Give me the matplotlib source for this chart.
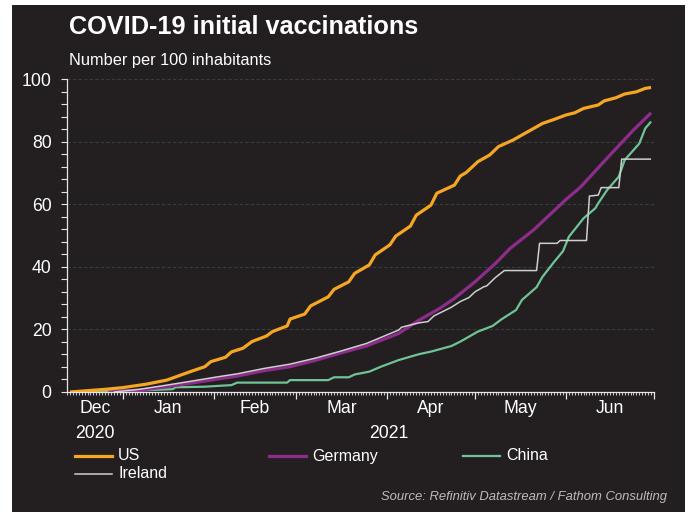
"""COVID-19 initial vaccinations, number per 100 inhabitants."""
import pandas as pd
import matplotlib
matplotlib.use("Agg")
import matplotlib.pyplot as plt
import matplotlib.dates as mdates
from matplotlib.lines import Line2D
from matplotlib.patches import Rectangle
from matplotlib.ticker import MultipleLocator

# Data
us_dates = ["2020-12-14", "2020-12-26", "2021-01-01", "2021-01-09", "2021-01-16",
            "2021-01-24", "2021-01-29", "2021-01-31", "2021-02-05", "2021-02-07",
            "2021-02-11", "2021-02-14", "2021-02-19", "2021-02-21", "2021-02-26",
            "2021-02-27", "2021-03-04", "2021-03-06", "2021-03-12", "2021-03-14",
            "2021-03-19", "2021-03-21", "2021-03-26", "2021-03-28", "2021-04-02",
            "2021-04-04", "2021-04-09", "2021-04-11", "2021-04-16", "2021-04-18",
            "2021-04-24", "2021-04-26", "2021-04-28", "2021-05-02", "2021-05-06",
            "2021-05-09", "2021-05-14", "2021-05-17", "2021-05-21", "2021-05-24",
            "2021-05-28", "2021-06-01", "2021-06-04", "2021-06-07", "2021-06-12",
            "2021-06-14", "2021-06-18", "2021-06-21", "2021-06-25", "2021-06-28",
            "2021-06-30"]
us_values = [0.0, 0.85, 1.4, 2.5, 3.8, 6.5, 8.1, 9.7, 11.1, 12.8,
             14.0, 16.1, 17.9, 19.3, 21.1, 23.3, 24.9, 27.5, 30.4, 32.8,
             35.2, 37.9, 40.6, 43.8, 47.0, 49.8, 53.0, 56.5, 59.7, 63.5,
             66.1, 69.0, 70.1, 73.6, 75.7, 78.4, 80.5, 82.1, 84.2, 85.8,
             87.1, 88.5, 89.2, 90.6, 91.7, 93.0, 94.0, 95.2, 95.9, 97.0,
             97.3]

germany_dates = ["2020-12-27", "2021-01-07", "2021-01-16", "2021-01-24", "2021-02-02",
                 "2021-02-09", "2021-02-18", "2021-02-27", "2021-03-08", "2021-03-16",
                 "2021-03-25", "2021-04-05", "2021-04-12", "2021-04-19", "2021-04-24",
                 "2021-05-01", "2021-05-08", "2021-05-13", "2021-05-21", "2021-05-27",
                 "2021-06-01", "2021-06-06", "2021-06-16", "2021-06-24", "2021-06-30"]
germany_values = [0.0, 0.6, 1.7, 2.8, 4.1, 5.1, 6.8, 8.1, 10.2, 12.4,
                  14.7, 18.7, 23.0, 26.7, 29.9, 35.2, 41.1, 45.9, 51.8, 57.1,
                  61.5, 65.5, 75.7, 83.7, 89.2]

china_dates = ["2020-12-15", "2021-01-09", "2021-01-18", "2021-01-19", "2021-01-29",
               "2021-02-07", "2021-02-09", "2021-02-26", "2021-02-27", "2021-03-12",
               "2021-03-14", "2021-03-19", "2021-03-21", "2021-03-26", "2021-03-30",
               "2021-04-05", "2021-04-12", "2021-04-16", "2021-04-23", "2021-04-26",
               "2021-05-02", "2021-05-07", "2021-05-10", "2021-05-15", "2021-05-17",
               "2021-05-22", "2021-05-24", "2021-05-28", "2021-05-31", "2021-06-02",
               "2021-06-07", "2021-06-11", "2021-06-12", "2021-06-15", "2021-06-19",
               "2021-06-21", "2021-06-26", "2021-06-28", "2021-06-30"]
china_values = [0.0, 0.6, 0.9, 1.5, 1.7, 2.2, 3.0, 3.0, 3.8, 3.8,
                4.7, 4.7, 5.6, 6.5, 8.1, 10.2, 12.1, 12.9, 14.7, 16.1,
                19.3, 21.1, 23.2, 26.2, 29.4, 33.5, 36.8, 41.6, 45.0, 49.6,
                55.5, 58.7, 60.3, 64.5, 68.8, 74.1, 79.4, 84.2, 86.4]

ireland_dates = ["2020-12-29", "2021-01-07", "2021-01-16", "2021-01-24", "2021-02-02",
                 "2021-02-09", "2021-02-18", "2021-02-27", "2021-03-08", "2021-03-16",
                 "2021-03-25", "2021-04-05", "2021-04-06", "2021-04-12", "2021-04-15",
                 "2021-04-17", "2021-04-23", "2021-04-26", "2021-04-29", "2021-05-01",
                 "2021-05-04", "2021-05-05", "2021-05-08", "2021-05-11", "2021-05-22",
                 "2021-05-23", "2021-05-29", "2021-05-30", "2021-06-08", "2021-06-09",
                 "2021-06-12", "2021-06-13", "2021-06-19", "2021-06-20", "2021-06-30"]
ireland_values = [0.0, 0.9, 2.2, 3.4, 4.8, 5.8, 7.5, 8.9, 10.9, 13.0,
                  15.5, 19.8, 20.7, 22.1, 22.5, 24.3, 27.1, 28.9, 30.2, 32.0,
                  33.6, 33.9, 36.6, 38.8, 38.8, 47.5, 47.5, 48.4, 48.4, 62.6,
                  62.9, 65.3, 65.3, 74.4, 74.4]

series_names = ["US", "Germany", "China", "Ireland"]
month_names = ["Dec", "Jan", "Feb", "Mar", "Apr", "May", "Jun"]
year_labels = ["2020", "2021"]

BG = "#231f20"
colors = {"US": "#f5a623", "Germany": "#8e2c8c", "China": "#6fc495", "Ireland": "#cfcfcf"}
widths = {"US": 2.3, "Germany": 2.3, "China": 1.6, "Ireland": 1.1}

series = {
    "US": (us_dates, us_values),
    "Germany": (germany_dates, germany_values),
    "China": (china_dates, china_values),
    "Ireland": (ireland_dates, ireland_values),
}

plt.rcParams["font.family"] = ["Liberation Sans", "DejaVu Sans"]

fig = plt.figure(figsize=(6.92, 5.12), dpi=100)
fig.patch.set_facecolor("white")
# dark panel that leaves a thin white border
fig.add_artist(Rectangle((12 / 692, 0), 673 / 692, 507 / 512,
                         transform=fig.transFigure, facecolor=BG,
                         edgecolor="none", zorder=-10))

ax = fig.add_axes([67 / 692, 1 - 392 / 512, 587 / 692, 313 / 512])
ax.set_facecolor(BG)

for name in ["China", "Germany", "Ireland", "US"]:
    d, v = series[name]
    ax.plot(pd.to_datetime(d), v, color=colors[name], lw=widths[name],
            solid_joinstyle="round", solid_capstyle="butt")

x0, x1 = pd.Timestamp("2020-12-13"), pd.Timestamp("2021-07-01")
ax.set_xlim(x0, x1)
ax.set_ylim(0, 100)

# axes styling
for s in ["top", "right"]:
    ax.spines[s].set_visible(False)
for s in ["left", "bottom"]:
    ax.spines[s].set_color("#e6e6e6")
    ax.spines[s].set_linewidth(0.9)

ax.yaxis.set_major_locator(MultipleLocator(20))
ax.yaxis.set_minor_locator(MultipleLocator(4))
ax.grid(axis="y", which="major", color="#34403e", lw=0.8, ls=(0, (3, 2)))
ax.set_axisbelow(True)
ax.tick_params(axis="y", which="both", colors="#e6e6e6", labelcolor="white",
               labelsize=12.7, length=4, width=0.8, pad=7)

ax.xaxis.set_major_locator(mdates.MonthLocator())
ax.xaxis.set_minor_locator(mdates.DayLocator())
ax.xaxis.set_major_formatter(plt.NullFormatter())
ax.tick_params(axis="x", which="major", colors="#e6e6e6", length=5, width=0.9)
ax.tick_params(axis="x", which="minor", colors="#e6e6e6", length=2.5, width=0.6)

# month and year labels centred in the visible part of each month
trans = ax.get_xaxis_transform()
starts = pd.date_range("2020-12-01", periods=len(month_names) + 1, freq="MS")
for i, m in enumerate(month_names):
    a = max(starts[i], x0)
    b = min(starts[i + 1], x1)
    ax.text(a + (b - a) / 2, -0.067, m, transform=trans, ha="center",
            va="baseline", color="white", fontsize=12.7)
year_spans = [(x0, pd.Timestamp("2021-01-01")), (pd.Timestamp("2021-01-01"), x1)]
for (a, b), yl in zip(year_spans, year_labels):
    ax.text(a + (b - a) / 2, -0.147, yl, transform=trans, ha="center",
            va="baseline", color="white", fontsize=12.7)

# titles
fig.text(69 / 692, 1 - 34 / 512, "COVID-19 initial vaccinations", color="white",
         fontsize=18.2, fontweight="bold", va="baseline")
fig.text(69 / 692, 1 - 65 / 512, "Number per 100 inhabitants", color="white",
         fontsize=11.8, va="baseline")

# legend, laid out on a fixed grid
legend_pos = {"US": (0, 0), "Germany": (1, 0), "China": (2, 0), "Ireland": (0, 1)}
for name in series_names:
    col, row = legend_pos[name]
    lx = (75 + col * 194) / 692
    ly = 1 - (456 + row * 18) / 512
    fig.add_artist(Line2D([lx, lx + 37 / 692], [ly, ly], transform=fig.transFigure,
                          color=colors[name], lw=widths[name]))
    fig.text(lx + 43 / 692, ly, name, color="white", fontsize=11.5, va="center")

fig.text(667 / 692, 1 - 500 / 512, "Source: Refinitiv Datastream / Fathom Consulting",
         color="#bdbdbd", fontsize=9.4, style="italic", ha="right", va="baseline")

fig.savefig("out.png", dpi=100, facecolor=fig.get_facecolor())
